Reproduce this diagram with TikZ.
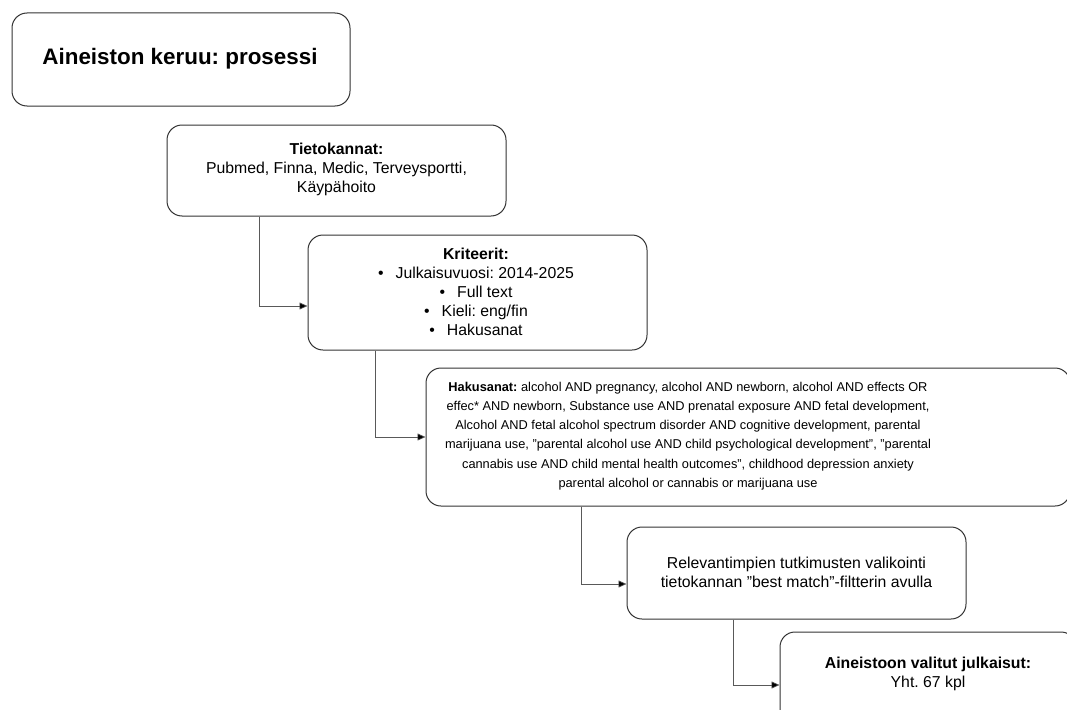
\documentclass[tikz,border=0pt]{standalone}
\usepackage{fontspec}
\setmainfont{Liberation Sans}
\usetikzlibrary{arrows.meta}
\newcommand{\dq}{\symbol{"22}}
\frenchspacing
\begin{document}
\begin{tikzpicture}[x=1pt,y=-1pt,
  box/.style={draw=black!80, line width=1pt, rounded corners=15pt, fill=white, inner sep=0pt},
  conn/.style={draw=black!65, line width=0.7pt, -{Triangle[length=8pt,width=7pt,fill=black]}},
  txt/.style={align=center, inner sep=0pt, font=\fontsize{15.8}{19}\selectfont},
  smalltxt/.style={align=center, inner sep=0pt, font=\fontsize{12.8}{19.2}\selectfont}]
\useasboundingbox (0,0) rectangle (1067,709);
\clip (0,0) rectangle (1067,709);
\node[box, minimum width=338pt, minimum height=93pt] (b1) at (181,59.5) {};
\node[font=\fontsize{22.4}{25}\selectfont\bfseries] (t1) at (180,59) {Aineiston keruu: prosessi};

\node[box, minimum width=339pt, minimum height=91pt] (b2) at (336.5,170.5) {};
\node[txt] (t2) at (336.5,169) {\textbf{Tietokannat:}\\Pubmed, Finna, Medic, Terveysportti,\\Käypähoito};

\node[box, minimum width=339pt, minimum height=115pt] (b3) at (477.5,292.5) {};
\node[txt] (t3) at (476,292) {\textbf{Kriteerit:}\\
\textbullet\hspace{12pt}Julkaisuvuosi: 2014-2025\\
\textbullet\hspace{12pt}Full text\\
\textbullet\hspace{12pt}Kieli: eng/fin\\
\textbullet\hspace{12pt}Hakusanat};

\node[box, minimum width=644pt, minimum height=138pt] (b4) at (748,437) {};
\node[smalltxt] (t4) at (688,436) {\textbf{Hakusanat:} alcohol AND pregnancy, alcohol AND newborn, alcohol AND effects OR\\
effec* AND newborn, Substance use AND prenatal exposure AND fetal development,\\
Alcohol AND fetal alcohol spectrum disorder AND cognitive development, parental\\
marijuana use, \dq parental alcohol use AND child psychological development\dq, \dq parental\\
cannabis use AND child mental health outcomes\dq, childhood depression anxiety\\
parental alcohol or cannabis or marijuana use};

\node[box, minimum width=339pt, minimum height=92pt] (b5) at (796.5,573) {};
\node[txt] (t5) at (796.5,572.5) {Relevantimpien tutkimusten valikointi\\tietokannan \dq best match\dq -filtterin avulla};

\node[box, minimum width=296pt, minimum height=92pt] (b6) at (928,678) {};
\node[txt] (t6) at (928,674) {\textbf{Aineistoon valitut julkaisut:}\\Yht. 67 kpl};

\draw[conn] ([xshift=-77.5pt]b2.south) |- ([yshift=-13.5pt]b3.west);
\draw[conn] ([xshift=-102.5pt]b3.south) |- (b4.west);
\draw[conn] ([xshift=-167pt]b4.south) |- ([yshift=-11pt]b5.west);
\draw[conn] ([xshift=-63.5pt]b5.south) |- ([yshift=-7pt]b6.west);
\end{tikzpicture}
\end{document}
